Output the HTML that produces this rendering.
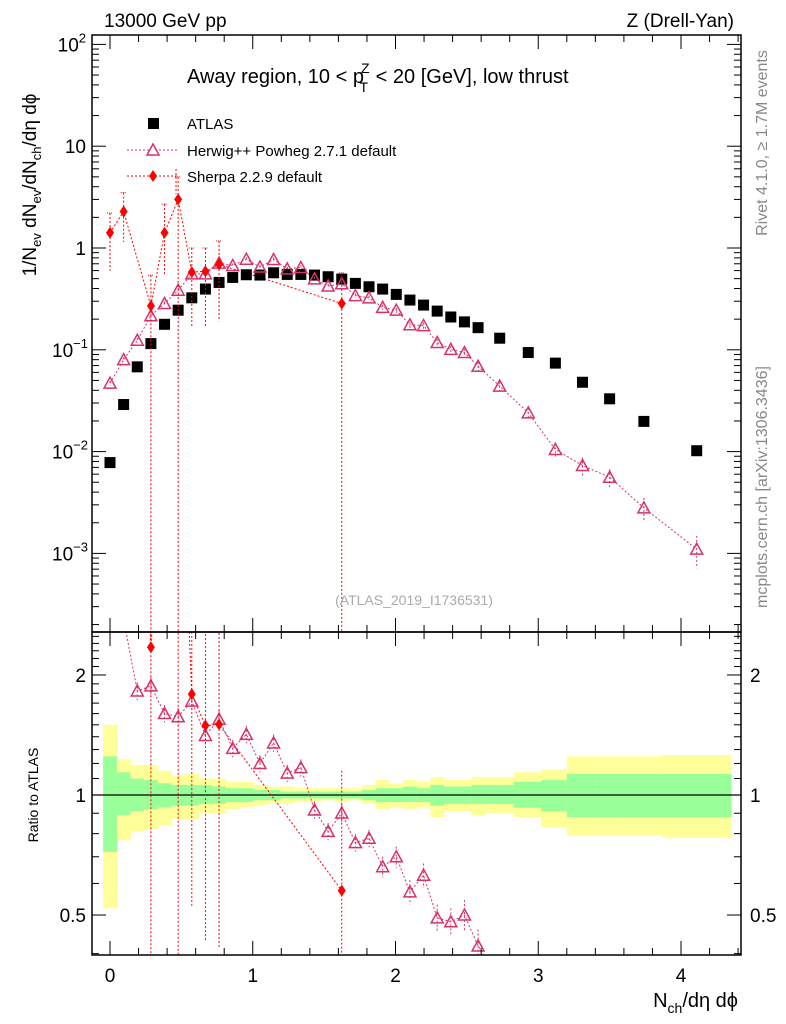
<!DOCTYPE html>
<html><head><meta charset="utf-8"><style>
html,body{margin:0;padding:0;background:#fff;overflow:hidden;width:786px;height:1024px;}
svg{display:block;font-family:"Liberation Sans",sans-serif;}
</style></head><body>
<svg id="chart" width="786" height="1024" viewBox="0 0 786 1024" xmlns="http://www.w3.org/2000/svg">
<defs>
<clipPath id="clipMain"><rect x="92" y="35" width="649" height="597"/></clipPath>
<clipPath id="clipRatio"><rect x="92" y="632" width="649" height="323"/></clipPath>
</defs>
<rect x="0" y="0" width="786" height="1024" fill="#fff"/>
<g id="ratioBands" clip-path="url(#clipRatio)"></g>
<g id="mainMarks" clip-path="url(#clipMain)"></g>
<g id="ratioMarks" clip-path="url(#clipRatio)"></g>
<g id="axes"></g>
<text x="104" y="27" font-size="19">13000 GeV pp</text>
<text x="734" y="27" font-size="19" text-anchor="end">Z (Drell-Yan)</text>
<text x="187" y="83" font-size="20">Away region, 10 &lt; p<tspan font-size="14" dy="-10" dx="-3">Z</tspan><tspan font-size="14" dy="19" dx="-10">T</tspan><tspan dy="-9" dx="2"> &lt; 20 [GeV], low thrust</tspan></text>
<g font-size="15">
<rect x="148" y="118" width="11" height="11" fill="#000"/>
<text x="187" y="129">ATLAS</text>
<line x1="127" y1="150" x2="179" y2="150" stroke="#d6336c" stroke-dasharray="2,2" stroke-width="1"/>
<path d="M153,144 L159,155 L147,155 Z" fill="#fff" stroke="#d6336c" stroke-width="1.5"/>
<text x="187" y="156">Herwig++ Powheg 2.7.1 default</text>
<line x1="127" y1="176" x2="179" y2="176" stroke="#f00" stroke-dasharray="2,2" stroke-width="1"/>
<line x1="176" y1="169" x2="176" y2="194" stroke="#f00" stroke-dasharray="2,2" stroke-width="1"/>
<path d="M153,170 L157,176 L153,182 L149,176 Z" fill="#f00"/>
<text x="187" y="182">Sherpa 2.2.9 default</text>
</g>
<text x="414" y="605" font-size="14" fill="#aaa" text-anchor="middle">(ATLAS_2019_I1736531)</text>
<text transform="translate(36,185) rotate(-90)" font-size="19" text-anchor="middle">1/N<tspan font-size="13" dy="5">ev</tspan><tspan dy="-5"> dN</tspan><tspan font-size="13" dy="5">ev</tspan><tspan dy="-5">/dN</tspan><tspan font-size="13" dy="5">ch</tspan><tspan dy="-5">/dη dϕ</tspan></text>
<text transform="translate(38,795) rotate(-90)" font-size="14" text-anchor="middle">Ratio to ATLAS</text>
<text x="738" y="1007" font-size="20" text-anchor="end">N<tspan font-size="14" dy="6">ch</tspan><tspan dy="-6">/dη dϕ</tspan></text>
<text transform="translate(767,143) rotate(-90)" font-size="16" fill="#888" text-anchor="middle">Rivet 4.1.0, ≥ 1.7M events</text>
<text transform="translate(767,487) rotate(-90)" font-size="16" fill="#888" text-anchor="middle">mcplots.cern.ch [arXiv:1306.3436]</text>
</svg>
<script>
const atlasX = [0,1,2,3,4,5,6,7,8,9,10,11,12,13,14,15,16,17,18,19,20,21,22,23,24,25,26,27].map(i=>i*0.0955).concat([2.73,2.93,3.12,3.31,3.5,3.74,4.11]);
const atlasY = [0.0078,0.029,0.068,0.115,0.178,0.245,0.324,0.395,0.459,0.514,0.546,0.542,0.571,0.55,0.55,0.542,0.522,0.495,0.449,0.416,0.395,0.35,0.308,0.275,0.24,0.21,0.188,0.165,0.13,0.094,0.074,0.048,0.033,0.0198,0.0102];
const herwigY = [0.047,0.08,0.124,0.216,0.285,0.385,0.557,0.557,0.711,0.673,0.775,0.650,0.771,0.624,0.644,0.497,0.423,0.446,0.341,0.324,0.261,0.245,0.176,0.173,0.118,0.101,0.094,0.069,0.044,0.024,0.0105,0.0073,0.0056,0.0028,0.0011];
const herwigErr = [0.05,0.05,0.05,0.05,0.05,0.05,0.05,0.05,0.05,0.05,0.05,0.05,0.05,0.05,0.05,0.05,0.05,0.05,0.05,0.05,0.06,0.06,0.07,0.07,0.08,0.08,0.09,0.1,0.1,0.12,0.15,0.2,0.2,0.25,0.35];
const sherpaX = [0,0.0955,0.2865,0.382,0.4775,0.573,0.6685,0.764,1.6235];
const sherpaY = [1.41,2.28,0.27,1.41,3.0,0.58,0.59,0.69,0.285];
const sherpaLo = [0.6,1.15,1e-6,0.55,1e-6,0.17,0.17,0.19,1e-6];
const sherpaHi = [2.2,3.5,0.54,2.7,5.0,1.0,1.0,1.17,0.57];
const sherpaAtlasIdx = [0,1,3,4,5,6,7,8,17];
const bandEdges = [0,1,2,3,4,5,6,7,8,9,10,11,12,13,14,15,16,17,18,19,20,21,22,23,24,25,26,27,28].map(i=>(i-0.5)*0.0955).concat([2.83,3.02,3.2,3.4,3.6,3.87,4.35]);
const yellowUp = [1.50,1.23,1.19,1.19,1.15,1.12,1.13,1.10,1.10,1.08,1.08,1.06,1.05,1.05,1.04,1.04,1.04,1.04,1.04,1.06,1.09,1.07,1.09,1.08,1.11,1.09,1.09,1.11,1.11,1.14,1.16,1.25,1.25,1.25,1.26];
const yellowDn = [0.52,0.77,0.81,0.82,0.84,0.87,0.87,0.90,0.90,0.92,0.93,0.94,0.95,0.95,0.96,0.96,0.97,0.96,0.97,0.95,0.92,0.93,0.92,0.93,0.88,0.91,0.91,0.89,0.90,0.88,0.83,0.79,0.79,0.79,0.78];
const greenUp = [1.25,1.14,1.10,1.09,1.07,1.06,1.06,1.06,1.05,1.04,1.04,1.03,1.03,1.02,1.02,1.02,1.02,1.02,1.02,1.03,1.04,1.04,1.05,1.04,1.06,1.05,1.05,1.06,1.06,1.08,1.09,1.13,1.13,1.13,1.13];
const greenDn = [0.72,0.89,0.91,0.92,0.93,0.94,0.94,0.95,0.95,0.96,0.96,0.97,0.97,0.98,0.98,0.98,0.98,0.98,0.98,0.97,0.96,0.96,0.96,0.96,0.94,0.95,0.95,0.95,0.95,0.93,0.91,0.88,0.88,0.88,0.88];
const xTicks = [0,1,2,3,4];
const yTicksMain = [["10","2"],["10",""],["1",null],["10","−1"],["10","−2"],["10","−3"]];
const yTickVals = [100,10,1,0.1,0.01,0.001];
const rTickVals = [2,1,0.5];
const rTickLabels = ["2","1","0.5"];

const NS="http://www.w3.org/2000/svg";
const X = v => 110 + v*142.75;
const Y = v => 248 - Math.log10(v)*101.8;
const R = v => 795 - Math.log10(v)*398.7;
function mk(tag, attrs, parent){const e=document.createElementNS(NS,tag);for(const k in attrs)e.setAttribute(k,attrs[k]);parent.appendChild(e);return e;}
const gB=document.getElementById('ratioBands'),gM=document.getElementById('mainMarks'),gR=document.getElementById('ratioMarks'),gA=document.getElementById('axes');

for(let i=0;i<atlasX.length;i++){
  const x1=X(bandEdges[i]),x2=X(bandEdges[i+1]);
  let r=mk('rect',{x:x1,y:R(yellowUp[i]),width:x2-x1+0.5,height:R(yellowDn[i])-R(yellowUp[i]),fill:'#ffff99'},gB);
  
  
  r=mk('rect',{x:x1,y:R(greenUp[i]),width:x2-x1+0.5,height:R(greenDn[i])-R(greenUp[i]),fill:'#99ff99'},gB);
  
  
}
mk('line',{x1:92,x2:741,y1:R(1),y2:R(1),stroke:'#000','stroke-width':1.2},gR);

const HC='#d6336c';
function tri(g,x,y){return mk('path',{d:`M${x},${y-6} L${x+6},${y+5} L${x-6},${y+5} Z`,fill:'#fff','fill-opacity':0,stroke:HC,'stroke-width':1.5},g);}
function dia(g,x,y){return mk('path',{d:`M${x},${y-6} L${x+4},${y} L${x},${y+6} L${x-4},${y} Z`,fill:'#f00'},g);}

let ptsM=[],ptsR=[];
for(let i=0;i<atlasX.length;i++){ptsM.push(X(atlasX[i])+','+Y(herwigY[i]));ptsR.push(X(atlasX[i])+','+R(herwigY[i]/atlasY[i]));}
let l=mk('polyline',{points:ptsM.join(' '),fill:'none',stroke:HC,'stroke-dasharray':'2,2','stroke-width':1},gM);


l=mk('polyline',{points:ptsR.join(' '),fill:'none',stroke:HC,'stroke-dasharray':'2,2','stroke-width':1},gR);


ptsM=[];ptsR=[];
for(let i=0;i<sherpaX.length;i++){const a=atlasY[sherpaAtlasIdx[i]];ptsM.push(X(sherpaX[i])+','+Y(sherpaY[i]));ptsR.push(X(sherpaX[i])+','+R(sherpaY[i]/a));}
l=mk('polyline',{points:ptsM.join(' '),fill:'none',stroke:'#f00','stroke-dasharray':'2,2','stroke-width':1},gM);


l=mk('polyline',{points:ptsR.join(' '),fill:'none',stroke:'#f00','stroke-dasharray':'2,2','stroke-width':1},gR);



for(let i=0;i<atlasX.length;i++){
  const r=mk('rect',{x:X(atlasX[i])-5.5,y:Y(atlasY[i])-5.5,width:11,height:11,fill:'#000'},gM);
  
  
}
for(let i=0;i<atlasX.length;i++){
  const x=X(atlasX[i]),e=herwigErr[i];
  mk('line',{x1:x,x2:x,y1:Y(herwigY[i]*(1+e)),y2:Y(herwigY[i]*(1-e)),stroke:HC,'stroke-dasharray':'2,2'},gM);
  let t=tri(gM,x,Y(herwigY[i]));
  
  
  const rr=herwigY[i]/atlasY[i];
  mk('line',{x1:x,x2:x,y1:R(rr*(1+e)),y2:R(rr*(1-e)),stroke:HC,'stroke-dasharray':'2,2'},gR);
  t=tri(gR,x,R(rr));
  
  
}
for(let i=0;i<sherpaX.length;i++){
  const x=X(sherpaX[i]),a=atlasY[sherpaAtlasIdx[i]];
  mk('line',{x1:x,x2:x,y1:Y(sherpaHi[i]),y2:Y(sherpaLo[i]),stroke:'#f00','stroke-dasharray':'2,2'},gM);
  mk('line',{x1:x-3,x2:x+3,y1:Y(sherpaHi[i]),y2:Y(sherpaHi[i]),stroke:'#f00','stroke-dasharray':'1,1'},gM);
  let d=dia(gM,x,Y(sherpaY[i]));
  
  
  mk('line',{x1:x,x2:x,y1:R(sherpaHi[i]/a),y2:R(sherpaLo[i]/a),stroke:'#f00','stroke-dasharray':'2,2'},gR);
  d=dia(gR,x,R(sherpaY[i]/a));
  
  
}

mk('rect',{x:92,y:35,width:649,height:597,fill:'none',stroke:'#000','stroke-width':1.5},gA);
mk('rect',{x:92,y:632,width:649,height:323,fill:'none',stroke:'#000','stroke-width':1.5},gA);
for(let k=0;k<=22;k++){
  const v=k*0.2; const x=X(v); if(x<92||x>741) continue;
  const major = Math.abs(v-Math.round(v))<1e-6; const L=major?14:7;
  [[35,1],[632,-1],[632,1],[955,-1]].forEach(([y,s])=>mk('line',{x1:x,x2:x,y1:y,y2:y+s*L,stroke:'#000'},gA));
}
xTicks.forEach(v=>{const t=mk('text',{x:X(v),y:982,'font-size':19,'text-anchor':'middle'},gA);t.textContent=v;
 
 });
for(let d=-4;d<=2;d++){for(let m=1;m<=9;m++){const v=m*Math.pow(10,d);const y=Y(v);if(y<35||y>632)continue;const L=m==1?14:7;
 mk('line',{x1:92,x2:92+L,y1:y,y2:y,stroke:'#000'},gA);mk('line',{x1:741,x2:741-L,y1:y,y2:y,stroke:'#000'},gA);}}
yTickVals.forEach((v,i)=>{const lab=yTicksMain[i];const t=mk('text',{x:86,y:Y(v)+7,'font-size':19,'text-anchor':'end'},gA);
 
 
 t.textContent=lab[0];
 if(lab[1]){const s=mk('tspan',{dy:-9,'font-size':13},t);s.textContent=lab[1];}
 if(lab[1]&&lab[1].length>1) t.setAttribute('x',88);});
for(let k=4;k<=25;k++){const v=k/10;const y=R(v);if(y<632||y>955)continue;const L=(v==0.5||v==1||v==2)?14:7;
 mk('line',{x1:92,x2:92+L,y1:y,y2:y,stroke:'#000'},gA);mk('line',{x1:741,x2:741-L,y1:y,y2:y,stroke:'#000'},gA);}
rTickVals.forEach((v,i)=>{let t=mk('text',{x:86,y:R(v)+7,'font-size':19,'text-anchor':'end'},gA);t.textContent=rTickLabels[i];
 
 
 t=mk('text',{x:750,y:R(v)+7,'font-size':19},gA);t.textContent=rTickLabels[i];
 
 });
</script>
</body></html>
